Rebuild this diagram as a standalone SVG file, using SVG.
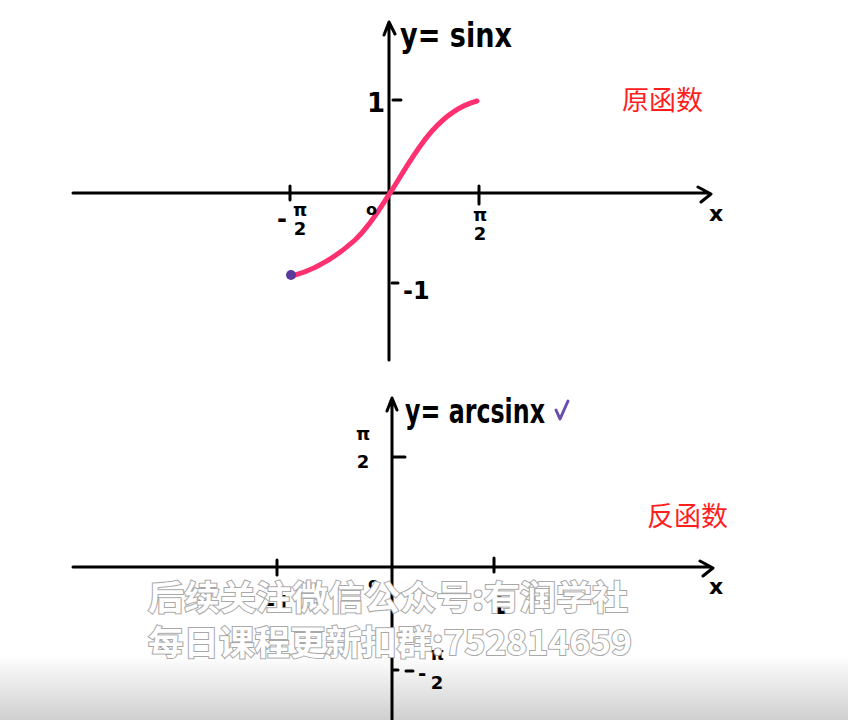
<svg xmlns="http://www.w3.org/2000/svg" width="848" height="720" viewBox="0 0 848 720">
<defs>
<linearGradient id="shade" x1="0" y1="0" x2="0" y2="1">
<stop offset="0" stop-color="#ffffff"/>
<stop offset="1" stop-color="#cfcfcf"/>
</linearGradient>
<style>
.ax{stroke:#000;stroke-width:3;fill:none;stroke-linecap:round;stroke-linejoin:round}
.hw{font-family:"DejaVu Sans","Liberation Sans",sans-serif;font-weight:bold;fill:#000}
.pi{font-family:"DejaVu Sans","Liberation Sans",sans-serif;font-weight:bold;fill:#000;font-size:18px;text-anchor:middle}
.cn{font-family:"Noto Sans CJK SC","Noto Sans",sans-serif;fill:#ff1f1f;font-size:27px}
.wm{font-family:"Noto Sans CJK SC","Noto Sans",sans-serif;font-weight:bold;font-size:34px;fill:#ffffff;stroke:#a8a8a8;stroke-width:2;paint-order:stroke}
</style>
</defs>
<rect width="848" height="720" fill="#fff"/>
<rect x="0" y="655" width="848" height="65" fill="url(#shade)"/>

<g id="top-plot">
<g id="top-axes">
<path class="ax" d="M73,193 L708,193 M698,187 L711,194 L701,202"/>
<path class="ax" d="M389,360 L389,22 M384,35 L389,22 L395,34"/>
<path class="ax" d="M290,186 L290,200 M479,186 L479,204 M393,100 L401,100 M392,283 L398,283"/>
</g>
<g id="top-curve">
<path d="M292,276 C315,270 335,258 355,240 C372,224 382,205 390,193 C400,178 415,150 432,131 C448,113 462,105 477,101" fill="none" stroke="#ff3070" stroke-width="5" stroke-linecap="round"/>
<circle cx="291" cy="275" r="5" fill="#5a3b9c"/>
</g>
<g id="top-labels">
<text class="hw" x="400" y="47" font-size="34" textLength="112" lengthAdjust="spacingAndGlyphs">y= sinx</text>
<text class="hw" x="367" y="112" font-size="26">1</text>
<text class="hw" x="403" y="299" font-size="24">-1</text>
<text class="hw" x="366" y="215" font-size="16">o</text>
<text class="hw" x="709" y="221" font-size="22">x</text>
<text class="hw" x="277" y="227" font-size="24">-</text>
<text class="pi" x="300" y="216">π</text>
<text class="pi" x="300" y="235">2</text>
<text class="pi" x="480" y="221">π</text>
<text class="pi" x="480" y="240">2</text>
</g>
<text id="orig-label" class="cn" x="622" y="110">原函数</text>
</g>

<g id="bottom-plot">
<g id="bottom-axes">
<path class="ax" d="M73,567 L710,567 M700,561 L713,568 L703,576"/>
<path class="ax" d="M392,720 L392,398 M387,411 L392,398 L397,410"/>
<path class="ax" d="M277,560 L277,575 M494,558 L494,572 M393,457 L405,457 M393,670 L398,670 M406,671 L413,671"/>
</g>
<g id="bottom-labels">
<text class="hw" x="405" y="423" font-size="34" textLength="140" lengthAdjust="spacingAndGlyphs">y= arcsinx</text>
<path d="M556,410 L560,419 L568,401" fill="none" stroke="#6a4bb0" stroke-width="3" stroke-linecap="round" stroke-linejoin="round"/>
<text class="pi" x="363" y="440">π</text>
<text class="pi" x="363" y="468">2</text>
<text class="hw" x="368" y="589" font-size="16">o</text>
<text class="hw" x="709" y="594" font-size="22">x</text>
<text class="hw" x="266" y="611" font-size="22">-1</text>
<text class="hw" x="490" y="614" font-size="24">1</text>
<text class="pi" x="437" y="660">π</text>
<text class="pi" x="437" y="689">2</text>
<text class="hw" x="418" y="680" font-size="20">-</text>
</g>
<text id="inv-label" class="cn" x="647" y="526">反函数</text>
</g>

<g id="watermark">
<text class="wm" x="148" y="610" textLength="480" lengthAdjust="spacingAndGlyphs">后续关注微信公众号:有润学社</text>
<text class="wm" x="148" y="655" textLength="484" lengthAdjust="spacingAndGlyphs">每日课程更新扣群:752814659</text>
</g>
</svg>
